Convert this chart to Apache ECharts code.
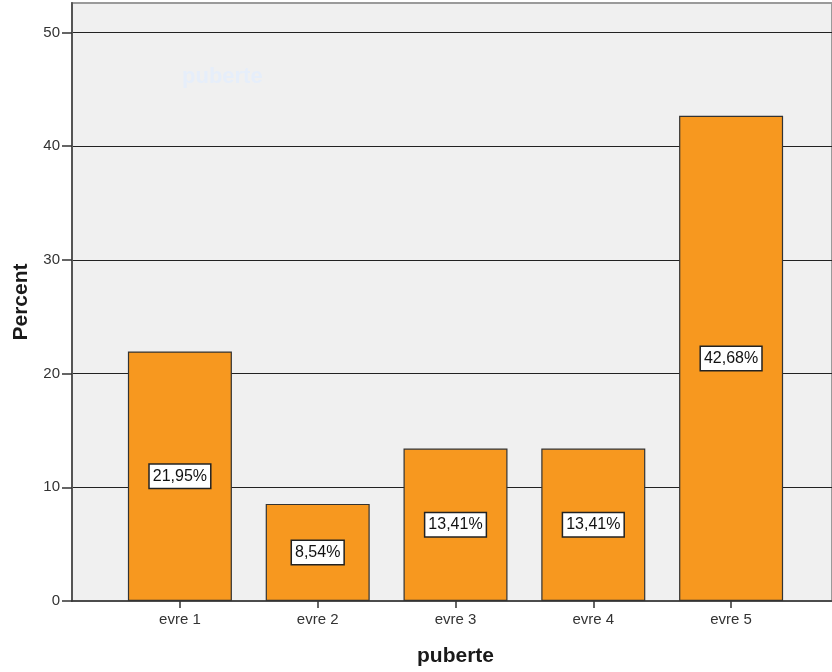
<!DOCTYPE html>
<html>
<head>
<meta charset="utf-8">
<script src="https://cdn.jsdelivr.net/npm/echarts@6/dist/echarts.min.js"></script>
<style>
  html, body { margin: 0; padding: 0; background: #ffffff; }
  #chart { width: 832px; height: 672px; }
</style>
</head>
<body>
<div id="chart"></div>
<script>
// Percent of cases per puberty stage
const categories = ['evre 1', 'evre 2', 'evre 3', 'evre 4', 'evre 5'];
const percents = [21.95, 8.54, 13.41, 13.41, 42.68];
const yTicks = { min: 0, max: 52.6, interval: 10 };

const font = 'Liberation Sans, Arial, sans-serif';
const chart = echarts.init(document.getElementById('chart'));

chart.setOption({
  animation: false,
  title: {
    text: 'puberte',
    left: 177,
    top: 61,
    textStyle: { color: '#e6eefa', fontSize: 22, fontWeight: 'bold', fontFamily: font }
  },
  grid: [
    // frame, y axis and baseline
    { left: 72, right: -20, top: 3, bottom: 71, show: true,
      backgroundColor: '#f0f0f0', borderColor: '#9a9a9a', borderWidth: 2 },
    // bars
    { left: 111, right: 32, top: 3, bottom: 71 }
  ],
  xAxis: [
    { gridIndex: 0, type: 'value', min: 0, max: 1,
      axisLine: { show: true, lineStyle: { color: '#333', width: 1.5 } },
      axisTick: { show: false }, axisLabel: { show: false }, splitLine: { show: false } },
    { gridIndex: 1, type: 'category', data: categories,
      axisLine: { show: false },
      axisTick: { show: true, alignWithLabel: true, length: 7, lineStyle: { color: '#333', width: 1.5 } },
      axisLabel: { color: '#333', fontSize: 15, fontFamily: font, margin: 11 },
      name: 'puberte', nameLocation: 'middle', nameGap: 45,
      nameTextStyle: { color: '#1a1a1a', fontSize: 21, fontWeight: 'bold', fontFamily: font } }
  ],
  yAxis: [
    { gridIndex: 0, type: 'value', min: yTicks.min, max: yTicks.max, interval: yTicks.interval,
      axisLine: { show: true, lineStyle: { color: '#555', width: 2 } },
      axisTick: { show: true, length: 10, lineStyle: { color: '#333', width: 1.5 } },
      axisLabel: { color: '#333', fontSize: 15, fontFamily: font, margin: 12, showMaxLabel: false },
      splitLine: { show: true, showMaxLine: false, showMinLine: false, lineStyle: { color: '#222', width: 1.2 } },
      name: 'Percent', nameLocation: 'middle', nameGap: 40,
      nameTextStyle: { color: '#1a1a1a', fontSize: 21, fontWeight: 'bold', fontFamily: font } },
    { gridIndex: 1, type: 'value', min: yTicks.min, max: yTicks.max, interval: yTicks.interval, show: false }
  ],
  series: [{
    type: 'bar',
    xAxisIndex: 1,
    yAxisIndex: 1,
    data: percents,
    barWidth: 104,
    itemStyle: { color: '#f7981f', borderColor: '#333', borderWidth: 1.2 },
    label: {
      show: true,
      position: 'inside',
      formatter: p => p.value.toFixed(2).replace('.', ',') + '%',
      color: '#111',
      fontSize: 16,
      fontFamily: font,
      backgroundColor: '#ffffff',
      borderColor: '#222',
      borderWidth: 1.5,
      padding: [4, 3, 3, 3]
    }
  }]
});
</script>
</body>
</html>
